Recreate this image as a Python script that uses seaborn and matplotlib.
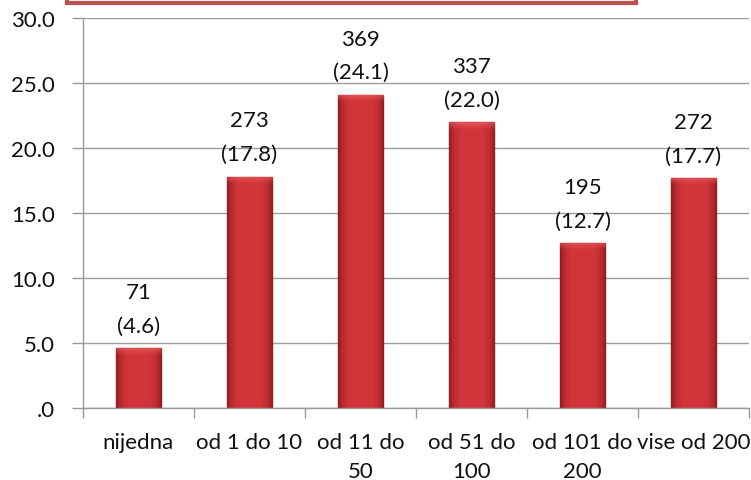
import matplotlib
matplotlib.use("Agg")
import matplotlib.pyplot as plt
import seaborn as sns
import pandas as pd
import numpy as np
from matplotlib.patches import Rectangle
from matplotlib.colors import to_rgb

categories = ["nijedna", "od 1 do 10", "od 11 do\n50", "od 51 do\n100", "od 101 do\n200", "vise od 200"]
percents = [4.6, 17.8, 24.1, 22.0, 12.7, 17.7]
counts = [71, 273, 369, 337, 195, 272]
yticks = [0, 5, 10, 15, 20, 25, 30]
ytick_labels = [".0", "5.0", "10.0", "15.0", "20.0", "25.0", "30.0"]

sns.set_theme(style="white")
plt.rcParams['font.family'] = ['Lato', 'DejaVu Sans']

W, H = 751, 481
FS = 16
fig = plt.figure(figsize=(W / 100, H / 100), dpi=100)
ax = fig.add_axes([83 / W, 1 - 409 / H, (749 - 83) / W, (409 - 19) / H])

df = pd.DataFrame({"cat": categories, "pct": percents})
sns.barplot(data=df, x="cat", y="pct", ax=ax, color="#c83034", width=0.41,
            edgecolor="#8a1a1c", linewidth=1.0, saturation=1)

# bevelled shading on each bar
edge_c = np.array(to_rgb("#921c1f"))
mid_c = np.array(to_rgb("#d3363a"))
top_c = np.array(to_rgb("#ec6466"))
px_per_unit = (409 - 19) / 30.0
for p in list(ax.patches):
    x0, y0 = p.get_x(), p.get_y()
    w, h = p.get_width(), p.get_height()
    nx, ny = 60, 300
    t = np.linspace(0, 1, nx)
    prof = 1 - np.abs(2 * t - 1) ** 4
    row = edge_c[None, :] * (1 - prof[:, None]) + mid_c[None, :] * prof[:, None]
    img = np.repeat(row[None, :, :], ny, axis=0)
    top_units = 7 / px_per_unit
    ys = np.linspace(y0 + h, y0, ny)
    for j, yy in enumerate(ys):
        d = (y0 + h) - yy
        if d < top_units:
            a = 0.6 * (1 - d / top_units)
            img[j] = img[j] * (1 - a) + top_c * a
    im = ax.imshow(img, extent=[x0, x0 + w, y0, y0 + h], aspect="auto", zorder=p.get_zorder() + 0.1,
                   interpolation="bilinear")
    im.set_clip_path(p)

for i, (p, c) in enumerate(zip(percents, counts)):
    ax.annotate(f"{c}\n({p:.1f})", (i, p), xytext=(0, 9), textcoords="offset points",
                ha="center", va="bottom", fontsize=FS, linespacing=1.85, color="#111111")

ax.set_xlim(-0.5, 5.5)
ax.set_ylim(0, 30)
ax.set_yticks(yticks)
ax.set_yticklabels(ytick_labels, fontsize=FS)
ax.set_xticks(range(len(categories)))
ax.set_xticklabels(categories, fontsize=FS, linespacing=1.6)
ax.set_xticks([i - 0.5 for i in range(len(categories) + 1)], minor=True)
ax.tick_params(axis="x", which="major", length=0, pad=17, colors="#111111")
ax.tick_params(axis="x", which="minor", length=7, width=1, color="#999999", direction="out", bottom=True)
ax.tick_params(axis="y", length=8, width=1, color="#999999", direction="out", left=True, pad=12, colors="#111111")
ax.set_xlabel("")
ax.set_ylabel("")
ax.grid(axis="y", color="#9e9e9e", linewidth=1)
ax.set_axisbelow(True)
for s in ["top", "right"]:
    ax.spines[s].set_visible(False)
for s in ["left", "bottom"]:
    ax.spines[s].set_color("#999999")
    ax.spines[s].set_linewidth(1)

fig.patches.append(Rectangle((67 / W, 1 - 4 / H), (636 - 67) / W, 20 / H, transform=fig.transFigure,
                             facecolor="white", edgecolor="#c0504d", linewidth=3, zorder=5))

fig.savefig("out.png", dpi=100)
